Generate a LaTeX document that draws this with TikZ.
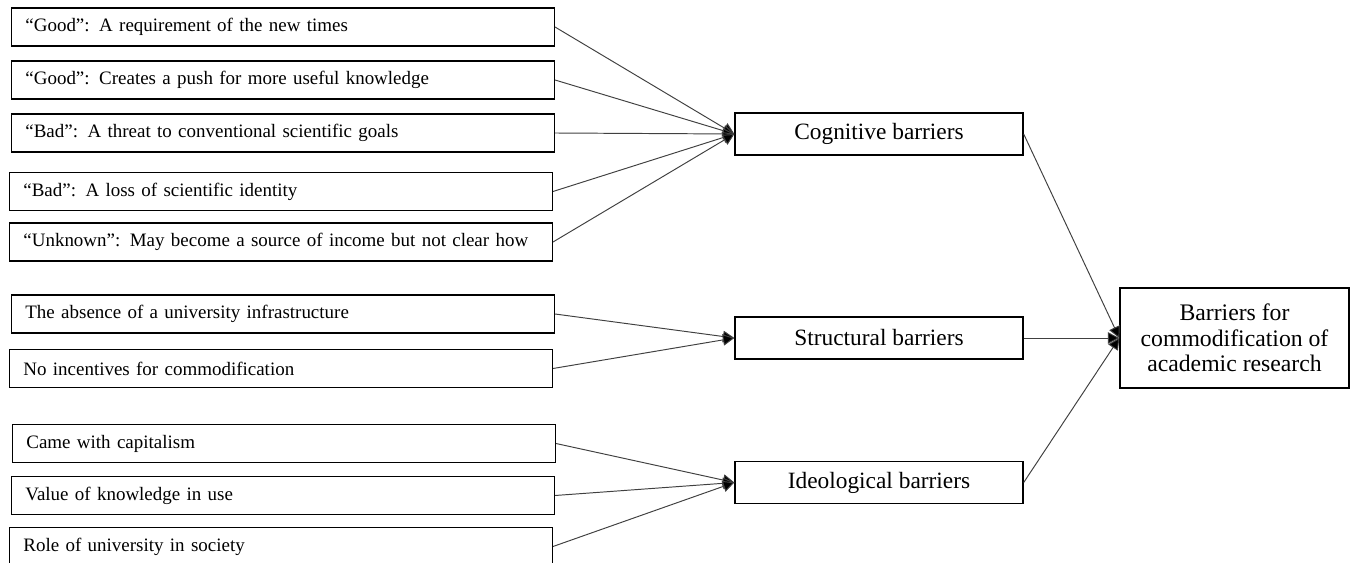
\documentclass[tikz,border=0pt]{standalone}
\usepackage{fontspec}
\setmainfont{Liberation Serif}
\usetikzlibrary{arrows.meta}
\begin{document}
\begin{tikzpicture}[x=0.02cm, y=-0.02cm,
  item/.style={draw, line width=0.8pt, anchor=east, text width=10.3cm, inner xsep=0.28cm, minimum height=0.76cm, align=left, font=\fontsize{10.8}{13}\selectfont},
  barrier/.style={draw, line width=0.8pt, minimum width=5.76cm, minimum height=0.84cm, font=\fontsize{13.3}{14.5}\selectfont},
  link/.style={draw=black!75, line width=0.55pt, -{Triangle[length=6.5pt,width=6.5pt,fill=black]}}]
\useasboundingbox (0,0) rectangle (1354,563);
\node[item] (good1) at (555,27) {“Good”: A requirement of the new times};
\node[item] (good2) at (555,80) {“Good”: Creates a push for more useful knowledge};
\node[item] (bad1) at (555,133) {“Bad”: A threat to conventional scientific goals};
\node[item] (bad2) at (553,191.5) {“Bad”: A loss of scientific identity};
\node[item] (unknown) at (553,242) {“Unknown”: May become a source of income but not clear how};
\node[item] (infra) at (555,314) {The absence of a university infrastructure};
\node[item] (incent) at (553,368.5) {No incentives for commodification};
\node[item] (capital) at (556,443.5) {Came with capitalism};
\node[item] (value) at (555,495.5) {Value of knowledge in use};
\node[item] (role) at (553,546.5) {Role of university in society};
\node[barrier] (cog) at (879,134) {Cognitive barriers};
\node[barrier] (struct) at (879,338) {Structural barriers};
\node[barrier] (ideo) at (879,482.5) {Ideological barriers};
\node[draw, line width=0.8pt, minimum width=4.58cm, minimum height=2cm, align=center, font=\fontsize{13.5}{14.5}\selectfont] (main) at (1234.5,338) {Barriers for\\commodification of\\academic research};
\draw[link] (good1.east) -- (cog.west);
\draw[link] (good2.east) -- (cog.west);
\draw[link] (bad1.east) -- (cog.west);
\draw[link] (bad2.east) -- (cog.west);
\draw[link] (unknown.east) -- (cog.west);
\draw[link] (infra.east) -- (struct.west);
\draw[link] (incent.east) -- (struct.west);
\draw[link] (capital.east) -- (ideo.west);
\draw[link] (value.east) -- (ideo.west);
\draw[link] (role.east) -- (ideo.west);
\draw[link] (cog.east) -- (main.west);
\draw[link] (struct.east) -- (main.west);
\draw[link] (ideo.east) -- (main.west);
\end{tikzpicture}
\end{document}
